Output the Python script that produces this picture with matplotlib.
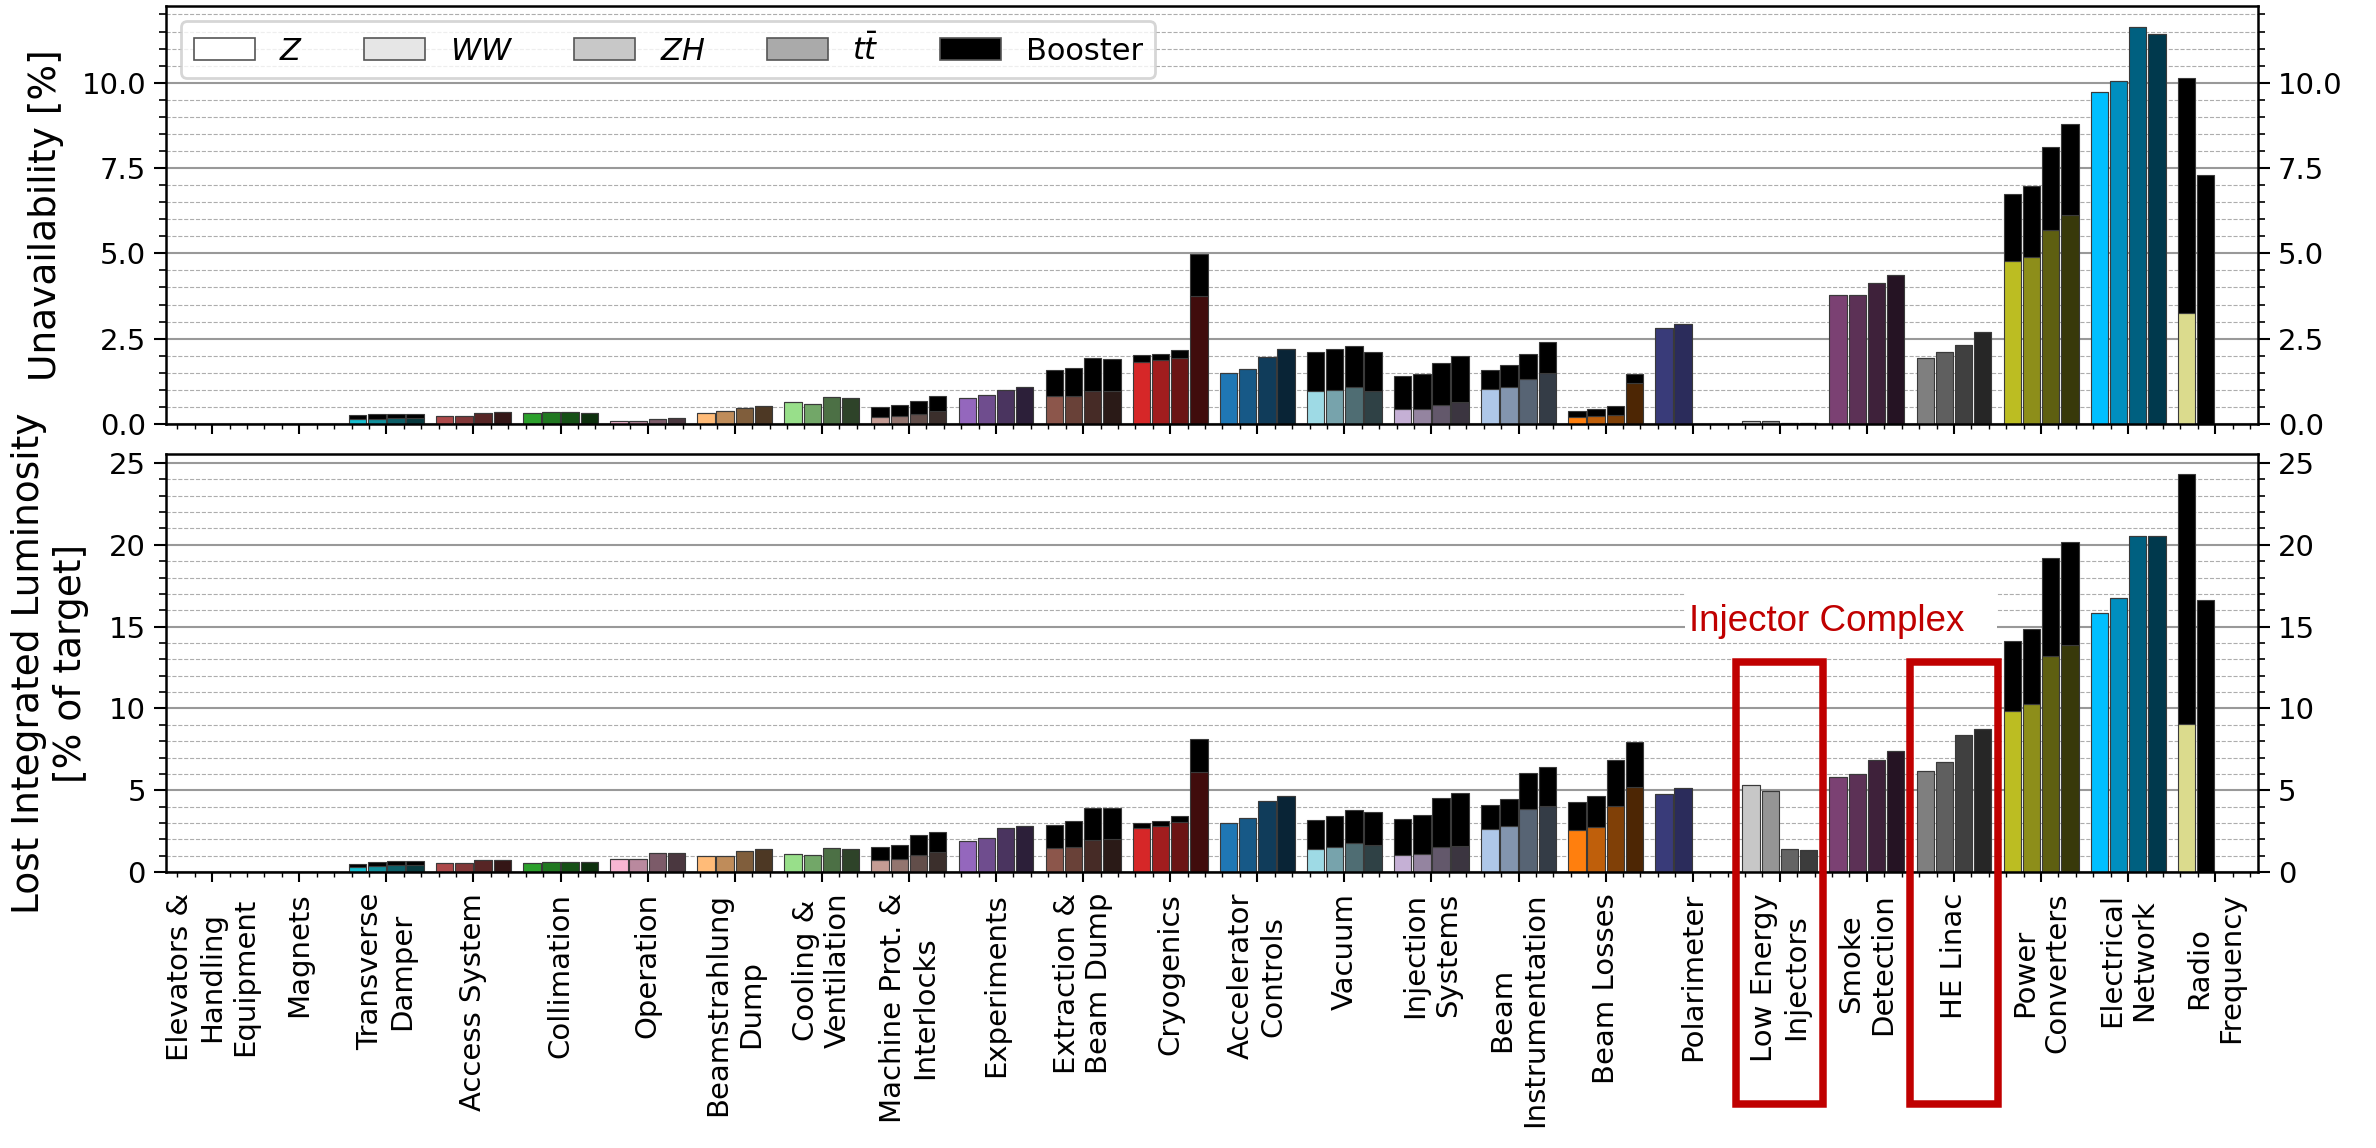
import matplotlib
matplotlib.use("Agg")
import matplotlib.pyplot as plt
import numpy as np
from matplotlib.colors import to_rgb
from matplotlib.patches import Patch, Rectangle
from matplotlib.ticker import MultipleLocator

systems = [
    "Elevators &\nHandling\nEquipment", "Magnets", "Transverse\nDamper", "Access System",
    "Collimation", "Operation", "Beamstrahlung\nDump", "Cooling &\nVentilation",
    "Machine Prot. &\nInterlocks", "Experiments", "Extraction &\nBeam Dump", "Cryogenics",
    "Accelerator\nControls", "Vacuum", "Injection\nSystems", "Beam\nInstrumentation",
    "Beam Losses", "Polarimeter", "Low Energy\nInjectors", "Smoke\nDetection",
    "HE Linac", "Power\nConverters", "Electrical\nNetwork", "Radio\nFrequency",
]
base_colors = [
    "#7f7f7f", "#7f7f7f", "#17becf", "#ad494a", "#2ca02c", "#f7b6d2", "#ffbb78", "#98df8a",
    "#c49c94", "#9467bd", "#8c564b", "#d62728", "#1f77b4", "#9edae5", "#c5b0d5", "#aec7e8",
    "#ff7f0e", "#393b79", "#c7c7c7", "#7b4173", "#7f7f7f", "#bcbd22", "#00bfff", "#dbdb8d",
]
modes = ["$Z$", "$WW$", "$ZH$", r"$t\bar{t}$"]
mode_shade = [1.0, 0.75, 0.5, 0.3]
legend_faces = ["#ffffff", "#e6e6e6", "#c8c8c8", "#aaaaaa"]

# rows: systems, columns: Z, WW, ZH, ttbar
unavail_system = [
    [0, 0, 0, 0], [0, 0, 0, 0], [0.14, 0.14, 0.16, 0.16], [0.23, 0.23, 0.31, 0.34],
    [0.31, 0.34, 0.34, 0.31], [0.09, 0.10, 0.15, 0.16], [0.33, 0.38, 0.48, 0.53],
    [0.63, 0.59, 0.80, 0.77], [0.21, 0.24, 0.29, 0.39], [0.77, 0.84, 1.00, 1.08],
    [0.81, 0.81, 0.96, 0.98], [1.82, 1.87, 1.94, 3.76], [1.49, 1.60, 1.97, 2.20],
    [0.96, 1.00, 1.08, 0.98], [0.43, 0.45, 0.55, 0.64], [1.02, 1.08, 1.33, 1.50],
    [0.20, 0.22, 0.26, 1.21], [2.80, 2.93, 0, 0], [0.10, 0.08, 0.03, 0.03],
    [3.77, 3.78, 4.14, 4.38], [1.93, 2.12, 2.31, 2.69], [4.78, 4.88, 5.68, 6.13],
    [9.72, 10.05, 11.63, 11.43], [3.26, 0, 0, 0],
]
unavail_booster = [
    [0, 0, 0, 0], [0, 0, 0, 0], [0.11, 0.14, 0.13, 0.13], [0, 0, 0, 0],
    [0, 0, 0, 0], [0, 0, 0, 0], [0, 0, 0, 0],
    [0, 0, 0, 0], [0.29, 0.31, 0.39, 0.43], [0, 0, 0, 0],
    [0.77, 0.83, 0.96, 0.91], [0.21, 0.18, 0.23, 1.21], [0, 0, 0, 0],
    [1.14, 1.21, 1.21, 1.13], [0.99, 1.02, 1.23, 1.34], [0.56, 0.64, 0.72, 0.89],
    [0.18, 0.21, 0.28, 0.26], [0, 0, 0, 0], [0, 0, 0, 0],
    [0, 0, 0, 0], [0, 0, 0, 0], [1.97, 2.09, 2.44, 2.67],
    [0, 0, 0, 0], [6.89, 7.31, 0, 0],
]
lumi_system = [
    [0, 0, 0, 0], [0, 0, 0, 0], [0.28, 0.35, 0.40, 0.40], [0.55, 0.55, 0.71, 0.75],
    [0.55, 0.59, 0.61, 0.59], [0.80, 0.82, 1.16, 1.16], [0.96, 1.00, 1.30, 1.40],
    [1.10, 1.04, 1.47, 1.43], [0.71, 0.80, 1.06, 1.20], [1.88, 2.06, 2.71, 2.79],
    [1.49, 1.53, 1.98, 2.04], [2.67, 2.79, 3.08, 6.14], [3.00, 3.28, 4.34, 4.65],
    [1.43, 1.55, 1.77, 1.63], [1.06, 1.12, 1.51, 1.61], [2.65, 2.81, 3.87, 4.06],
    [2.55, 2.73, 4.02, 5.20], [4.79, 5.12, 0, 0], [5.30, 4.93, 1.41, 1.37],
    [5.81, 5.99, 6.87, 7.38], [6.16, 6.75, 8.38, 8.77], [9.83, 10.30, 13.19, 13.90],
    [15.86, 16.74, 20.57, 20.57], [9.05, 0, 0, 0],
]
lumi_booster = [
    [0, 0, 0, 0], [0, 0, 0, 0], [0.22, 0.24, 0.29, 0.29], [0, 0, 0, 0],
    [0, 0, 0, 0], [0, 0, 0, 0], [0, 0, 0, 0],
    [0, 0, 0, 0], [0.82, 0.85, 1.20, 1.23], [0, 0, 0, 0],
    [1.41, 1.61, 1.95, 1.89], [0.35, 0.31, 0.37, 1.97], [0, 0, 0, 0],
    [1.77, 1.90, 2.04, 2.02], [2.18, 2.37, 3.04, 3.24], [1.45, 1.63, 2.21, 2.36],
    [1.73, 1.94, 2.81, 2.75], [0, 0, 0, 0], [0, 0, 0, 0],
    [0, 0, 0, 0], [0, 0, 0, 0], [4.27, 4.56, 6.01, 6.26],
    [0, 0, 0, 0], [15.29, 16.60, 0, 0],
]

BAR_W = 0.2
STEP = 0.22
EDGE = "#3a3a3a"


def shaded(color, k):
    return tuple(c * k for c in to_rgb(color))


def draw_bars(ax, system, booster):
    system = np.array(system)
    booster = np.array(booster)
    idx = np.arange(len(systems))
    for j in range(4):
        x = idx + (j - 1.5) * STEP
        cols = [shaded(c, mode_shade[j]) for c in base_colors]
        ax.bar(x, system[:, j], width=BAR_W, color=cols, edgecolor=EDGE, linewidth=0.8)
        ax.bar(x, booster[:, j], width=BAR_W, bottom=system[:, j], color="black",
               edgecolor=EDGE, linewidth=0.8)


def style_axis(ax, major, minor, top):
    ax.set_xlim(-0.53, 23.49)
    ax.set_ylim(0, top)
    ax.set_axisbelow(True)
    ax.yaxis.set_major_locator(MultipleLocator(major))
    ax.yaxis.set_minor_locator(MultipleLocator(minor))
    ax.xaxis.set_minor_locator(MultipleLocator(0.2))
    ax.yaxis.grid(True, which="major", color="0.6", linewidth=1.5)
    ax.yaxis.grid(True, which="minor", color="0.68", linestyle="--", linewidth=0.8)
    ax.tick_params(axis="y", which="both", left=True, right=True,
                   labelleft=True, labelright=True, labelsize=21, pad=6)
    ax.tick_params(axis="y", which="major", length=8.5, width=1.5)
    ax.tick_params(axis="y", which="minor", length=5, width=1.2)
    ax.tick_params(axis="x", which="major", length=7, width=1.5)
    ax.tick_params(axis="x", which="minor", length=3.5, width=1.0)
    for sp in ax.spines.values():
        sp.set_linewidth(1.8)


fig = plt.figure(figsize=(23.76, 11.48), dpi=100)
ax1 = fig.add_axes([0.0699, 0.6307, 0.8804, 0.3641])
ax2 = fig.add_axes([0.0699, 0.2404, 0.8804, 0.3641])

draw_bars(ax1, unavail_system, unavail_booster)
draw_bars(ax2, lumi_system, lumi_booster)

style_axis(ax1, 2.5, 0.5, 12.25)
style_axis(ax2, 5, 1, 25.55)

idx = np.arange(len(systems))
ax1.set_xticks(idx)
ax1.tick_params(axis="x", labelbottom=False)
ax2.set_xticks(idx)
ax2.set_xticklabels(systems, rotation=90, fontsize=21, multialignment="center")
ax2.tick_params(axis="x", which="major", pad=8)

ax1.set_ylabel("Unavailability [%]", fontsize=27, va="center")
ax1.yaxis.set_label_coords(-0.0574, 0.5)
ax2.set_ylabel("Lost Integrated Luminosity\n[% of target]", fontsize=27, va="center")
ax2.yaxis.set_label_coords(-0.0555, 0.5)

handles = [Patch(facecolor=f, edgecolor="#555555", linewidth=1.2, label=m)
           for f, m in zip(legend_faces, modes)]
handles.append(Patch(facecolor="black", edgecolor="#555555", linewidth=1.2, label="Booster"))
leg = ax1.legend(handles=handles, loc="upper left", ncol=5, fontsize=22, framealpha=0.8)
leg.get_frame().set_linewidth(2.0)
leg.get_frame().set_edgecolor("0.8")

# injector complex highlight
ax2.add_patch(Rectangle((16.91, 14.37), 3.58, 3.12, facecolor="white",
                        edgecolor="none", zorder=2))
ax2.text(18.54, 14.74, "Injector Complex", color="#c00000", fontsize=26.5,
         family="Liberation Sans", ha="center", va="baseline", zorder=3)
for x0 in (17.5, 19.5):
    ax2.add_patch(Rectangle((x0, -14.16), 1.0, 27.0, fill=False, edgecolor="#c00000",
                            linewidth=5.4, joinstyle="miter", clip_on=False, zorder=6))

fig.savefig("out.png", dpi=100)
